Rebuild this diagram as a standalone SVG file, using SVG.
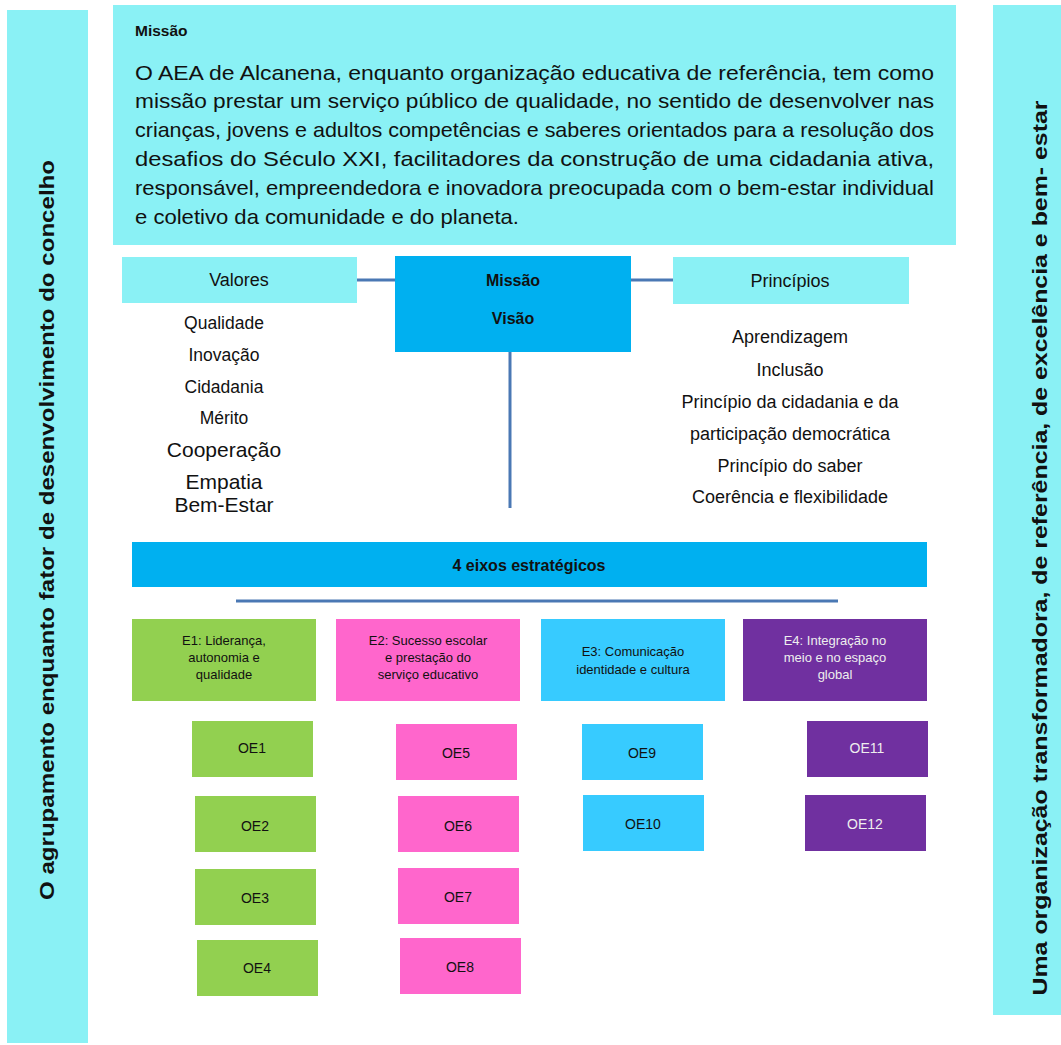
<svg xmlns="http://www.w3.org/2000/svg" width="1061" height="1045" viewBox="0 0 1061 1045">
<style>
text{font-family:"Liberation Sans",Arial,sans-serif;fill:#111}
.m{font-size:21px}
.v{font-size:16px;text-anchor:middle}
.vl{font-size:17.5px;text-anchor:middle}
.pl{font-size:18px;text-anchor:middle}
.vb{font-size:21px;text-anchor:middle}
.b{font-weight:bold}
.e{font-size:13px;text-anchor:middle}
.oe{font-size:14px;text-anchor:middle}
.w{fill:#EEEEEE}
.c{fill:#8AF1F5}
.blue{fill:#00B0F0}
.g{fill:#92D050}
.p{fill:#FF66CC}
.cy{fill:#37CBFF}
.pu{fill:#7030A0}
.ln{stroke:#4A78B4;stroke-width:3;fill:none}
.side{font-size:20px;font-weight:bold;text-anchor:middle}
</style>
<rect width="1061" height="1045" fill="#fff"/>
<g id="left-strip">
<rect class="c" x="7" y="10" width="81" height="1033"/>
<text class="side" transform="translate(54,530) rotate(-90)" textLength="740" lengthAdjust="spacingAndGlyphs">O agrupamento enquanto fator de desenvolvimento do concelho</text>
</g>
<g id="right-strip">
<rect class="c" x="993" y="5" width="68" height="1010"/>
<text class="side" transform="translate(1047,548) rotate(-90)" textLength="895" lengthAdjust="spacingAndGlyphs">Uma organização transformadora, de referência, de excelência e bem- estar</text>
</g>
<g id="missao-box">
<rect class="c" x="113" y="5" width="843" height="240"/>
<text x="135" y="36" class="b" style="font-size:15.5px">Missão</text>
<text class="m" x="135" y="80" textLength="799" lengthAdjust="spacingAndGlyphs">O AEA de Alcanena, enquanto organização educativa de referência, tem como</text>
<text class="m" x="135" y="108" textLength="799" lengthAdjust="spacingAndGlyphs">missão prestar um serviço público de qualidade, no sentido de desenvolver nas</text>
<text class="m" x="135" y="137" textLength="799" lengthAdjust="spacingAndGlyphs">crianças, jovens e adultos competências e saberes orientados para a resolução dos</text>
<text class="m" x="135" y="166" textLength="799" lengthAdjust="spacingAndGlyphs">desafios do Século XXI, facilitadores da construção de uma cidadania ativa,</text>
<text class="m" x="135" y="195" textLength="799" lengthAdjust="spacingAndGlyphs">responsável, empreendedora e inovadora preocupada com o bem-estar individual</text>
<text class="m" x="135" y="224" textLength="384" lengthAdjust="spacingAndGlyphs">e coletivo da comunidade e do planeta.</text>
</g>
<g id="connectors">
<line class="ln" x1="357" y1="280" x2="395" y2="280"/>
<line class="ln" x1="631" y1="280" x2="673" y2="280"/>
<line class="ln" x1="510" y1="352" x2="510" y2="508"/>
<line class="ln" x1="236" y1="601" x2="838" y2="601"/>
</g>
<g id="valores">
<rect class="c" x="122" y="257" width="235" height="46"/>
<text class="pl" x="239" y="286">Valores</text>
<text class="vl" x="224" y="329">Qualidade</text>
<text class="vl" x="224" y="361">Inovação</text>
<text class="vl" x="224" y="393">Cidadania</text>
<text class="vl" x="224" y="424">Mérito</text>
<text class="vb" x="224" y="457">Cooperação</text>
<text class="vb" x="224" y="489">Empatia</text>
<text class="vb" x="224" y="512">Bem-Estar</text>
</g>
<g id="missao-visao">
<rect class="blue" x="395" y="256" width="236" height="96"/>
<text class="v b" x="513" y="286">Missão</text>
<text class="v b" x="513" y="324">Visão</text>
</g>
<g id="principios">
<rect class="c" x="673" y="257" width="236" height="47"/>
<text class="pl" x="790" y="287">Princípios</text>
<text class="pl" x="790" y="343">Aprendizagem</text>
<text class="pl" x="790" y="376">Inclusão</text>
<text class="pl" x="790" y="408">Princípio da cidadania e da</text>
<text class="pl" x="790" y="440">participação democrática</text>
<text class="pl" x="790" y="472">Princípio do saber</text>
<text class="pl" x="790" y="503">Coerência e flexibilidade</text>
</g>
<g id="eixos">
<rect class="blue" x="132" y="542" width="795" height="45"/>
<text class="v b" x="529" y="571">4 eixos estratégicos</text>
</g>
<g id="E1">
<rect class="g" x="132" y="619" width="184" height="82"/>
<text class="e" x="224" y="645">E1: Liderança,</text>
<text class="e" x="224" y="662">autonomia e</text>
<text class="e" x="224" y="679">qualidade</text>
</g>
<g id="E2">
<rect class="p" x="336" y="619" width="184" height="82"/>
<text class="e" x="428" y="645">E2: Sucesso escolar</text>
<text class="e" x="428" y="662">e prestação do</text>
<text class="e" x="428" y="679">serviço educativo</text>
</g>
<g id="E3">
<rect class="cy" x="541" y="619" width="184" height="82"/>
<text class="e" x="633" y="656">E3: Comunicação</text>
<text class="e" x="633" y="674">identidade e cultura</text>
</g>
<g id="E4">
<rect class="pu" x="743" y="619" width="184" height="82"/>
<text class="e w" x="835" y="645">E4: Integração no</text>
<text class="e w" x="835" y="662">meio e no espaço</text>
<text class="e w" x="835" y="679">global</text>
</g>
<g id="OE1"><rect class="g" x="192" y="721" width="121" height="56"/><text class="oe" x="252" y="753">OE1</text></g>
<g id="OE2"><rect class="g" x="195" y="796" width="121" height="56"/><text class="oe" x="255" y="831">OE2</text></g>
<g id="OE3"><rect class="g" x="195" y="869" width="121" height="56"/><text class="oe" x="255" y="903">OE3</text></g>
<g id="OE4"><rect class="g" x="197" y="940" width="121" height="56"/><text class="oe" x="257" y="973">OE4</text></g>
<g id="OE5"><rect class="p" x="396" y="724" width="121" height="56"/><text class="oe" x="456" y="758">OE5</text></g>
<g id="OE6"><rect class="p" x="398" y="796" width="121" height="56"/><text class="oe" x="458" y="831">OE6</text></g>
<g id="OE7"><rect class="p" x="398" y="868" width="121" height="56"/><text class="oe" x="458" y="902">OE7</text></g>
<g id="OE8"><rect class="p" x="400" y="938" width="121" height="56"/><text class="oe" x="460" y="972">OE8</text></g>
<g id="OE9"><rect class="cy" x="582" y="724" width="121" height="56"/><text class="oe" x="642" y="758">OE9</text></g>
<g id="OE10"><rect class="cy" x="583" y="795" width="121" height="56"/><text class="oe" x="643" y="829">OE10</text></g>
<g id="OE11"><rect class="pu" x="807" y="721" width="121" height="56"/><text class="oe w" x="867" y="753">OE11</text></g>
<g id="OE12"><rect class="pu" x="805" y="795" width="121" height="56"/><text class="oe w" x="865" y="829">OE12</text></g>
</svg>
